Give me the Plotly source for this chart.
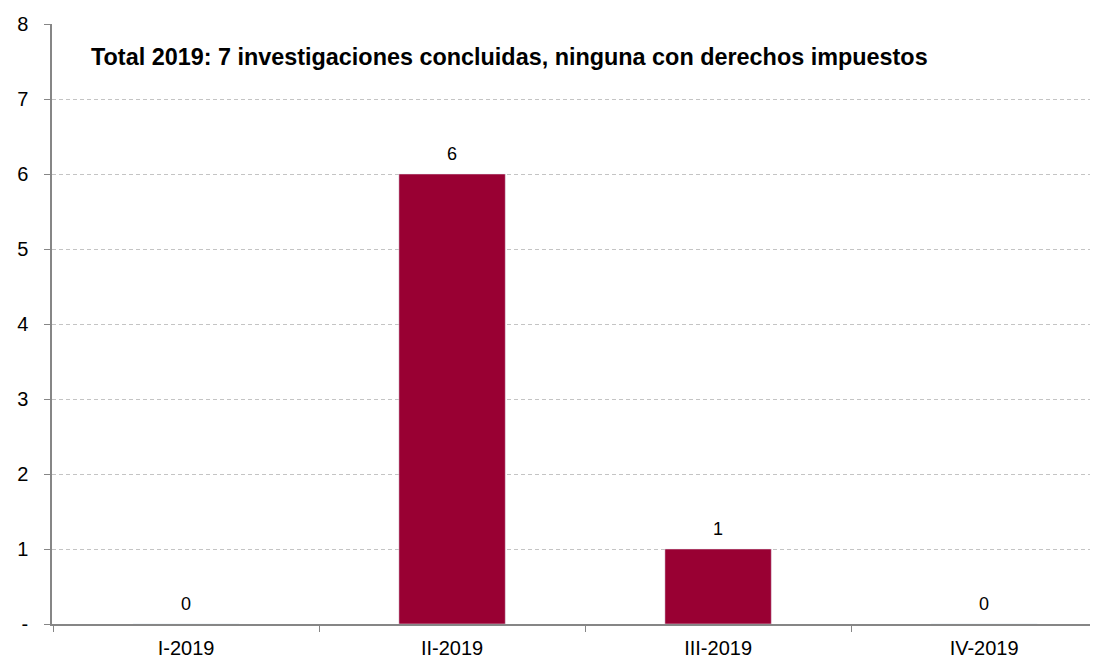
import plotly.graph_objects as go

trimestres = ['I-2019', 'II-2019', 'III-2019', 'IV-2019']
investigaciones = [0, 6, 1, 0]
y_ticks = [0, 1, 2, 3, 4, 5, 6, 7, 8]
y_labels = ['-', '1', '2', '3', '4', '5', '6', '7', '8']
titulo = 'Total 2019: 7 investigaciones concluidas, ninguna con derechos impuestos'

fig = go.Figure()

fig.add_trace(go.Bar(
    x=trimestres,
    y=investigaciones,
    marker_color='#990033',
    width=0.40,
))

# etiquetas de valor encima de cada barra
for t, v in zip(trimestres, investigaciones):
    fig.add_annotation(
        x=t, y=v, text=str(v), showarrow=False,
        yanchor='bottom', yshift=8,
        font=dict(size=18, color='black'),
    )

fig.add_annotation(
    text='<b>' + titulo + '</b>',
    xref='paper', yref='paper', x=0.036, y=0.945,
    xanchor='left', yanchor='middle', showarrow=False,
    font=dict(size=23.4, color='black'),
)

# la página tiene 8px de margen en el body
fig.update_layout(
    width=1095, height=661,
    margin=dict(l=44, r=13, t=16, b=45, autoexpand=False),
    plot_bgcolor='white', paper_bgcolor='white',
    font=dict(family='Liberation Sans, Arial', size=20, color='black'),
    showlegend=False,
)

# el eje queda recortado a la derecha como en el original
fig.update_xaxes(
    range=[-0.504, 3.398],
    showline=True, linecolor='#868686', linewidth=1.5,
    ticks='outside', tickson='boundaries', ticklen=6, tickcolor='#868686',
    tickfont=dict(size=20), showgrid=False, automargin=False,
    ticklabelstandoff=5,
)

fig.update_yaxes(
    range=[0, 8], tickvals=y_ticks, ticktext=y_labels,
    showline=True, linecolor='#868686', linewidth=1.5,
    ticks='outside', ticklen=6, tickcolor='#868686',
    showgrid=True, gridcolor='#c4c4c4', griddash='4px,3px', gridwidth=1,
    zeroline=False, tickfont=dict(size=20), automargin=False,
    ticklabelstandoff=12,
)

fig.write_html('out.html')
